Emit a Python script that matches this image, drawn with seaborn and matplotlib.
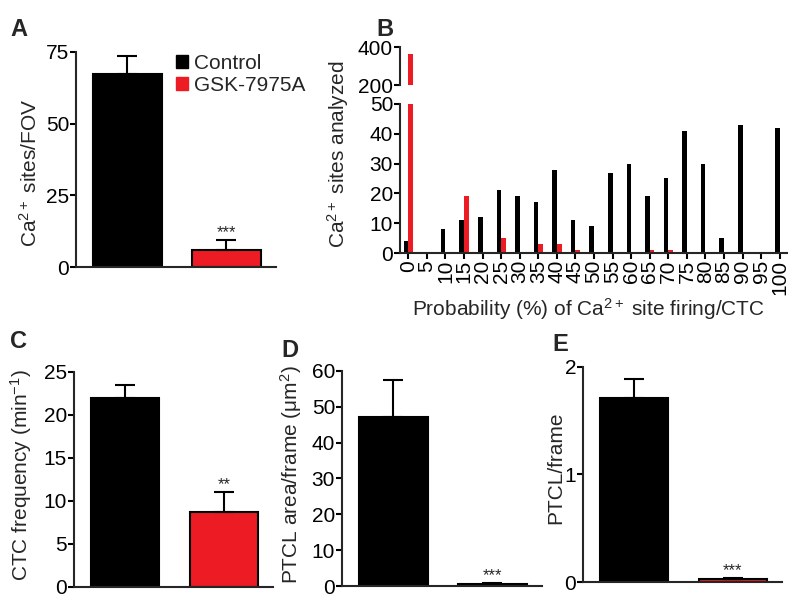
import numpy as np
import pandas as pd
import matplotlib
matplotlib.use("Agg")
import matplotlib.pyplot as plt
from matplotlib.patches import Patch
import seaborn as sns

sns.set_style("ticks")
plt.rcParams['font.family'] = ['Liberation Sans', 'DejaVu Sans']
plt.rcParams['mathtext.fontset'] = 'custom'
plt.rcParams['mathtext.rm'] = 'Liberation Sans'
plt.rcParams['mathtext.it'] = 'Liberation Sans:italic'
plt.rcParams['mathtext.bf'] = 'Liberation Sans:bold'

BLACK = "#000000"
RED = "#ED1C24"
groups = ["Control", "GSK-7975A"]

# Panel A: Ca2+ sites per FOV
a_mean = [67.2, 6.1]
a_sem = [6.5, 3.3]
# Panel C: CTC frequency
c_mean = [22.0, 8.7]
c_sem = [1.5, 2.3]
# Panel D: PTCL area per frame
d_mean = [47.2, 0.6]
d_sem = [10.3, 0.2]
# Panel E: PTCL per frame
e_mean = [1.71, 0.03]
e_sem = [0.18, 0.01]

# Panel B: histogram of firing probability
b_bins = [str(v) for v in range(0, 101, 5)]
b_control = [4, 0, 8, 11, 12, 21, 19, 17, 28, 11, 9, 27, 30, 19, 25, 41, 30, 5, 43, 0, 42]
b_gsk = [365, 0, 0, 19, 0, 5, 0, 3, 3, 1, 0, 0, 0, 1, 1, 0, 0, 0, 0, 0, 0]

fig = plt.figure(figsize=(8, 6.06), dpi=100)

FS = 15
LW = 1.5


def style_axis(ax):
    for s in ["top", "right"]:
        ax.spines[s].set_visible(False)
    for s in ["left", "bottom"]:
        ax.spines[s].set_linewidth(LW)
    ax.tick_params(axis="both", direction="out", length=4, width=LW,
                   labelsize=FS, pad=1, colors="black")


def bar_panel(rect, mean, sem, yticks, ylabel, stars, label_x, label_y):
    ax = fig.add_axes(rect)
    df = pd.DataFrame({"group": groups, "value": mean})
    sns.barplot(data=df, x="group", y="value", hue="group",
                palette=[BLACK, RED], saturation=1, edgecolor="black",
                linewidth=LW, width=0.69, errorbar=None, legend=False, ax=ax)
    ax.errorbar(x=[0, 1], y=mean, yerr=[[0, 0], sem], fmt="none",
                ecolor="black", elinewidth=LW, capsize=7, capthick=LW, zorder=1)
    style_axis(ax)
    ax.set_xlim(-0.52, 1.5)
    ax.set_ylim(0, yticks[-1])
    ax.set_yticks(yticks)
    ax.set_xticks([])
    ax.set_xlabel("")
    ax.set_ylabel(ylabel, fontsize=FS)
    ax.yaxis.set_label_coords(label_x, label_y)
    top = mean[1] + sem[1]
    ax.text(1, top, stars, ha="center", va="bottom", fontsize=12)
    return ax


# Panel A
axA = bar_panel([0.095, 0.5594, 0.25, 0.3548], a_mean, a_sem, [0, 25, 50, 75],
                "Ca$^{2+}$ sites/FOV", "***", -0.175, 0.44)
axA.legend(handles=[Patch(facecolor=BLACK, edgecolor=BLACK),
                    Patch(facecolor=RED, edgecolor=RED)],
           labels=groups, loc="upper left", bbox_to_anchor=(0.46, 1.03),
           frameon=False, fontsize=FS, handlelength=0.55, handleheight=0.55,
           handletextpad=0.3, labelspacing=0.15, borderaxespad=0)

# Panel C
bar_panel([0.0925, 0.0314, 0.249, 0.3548], c_mean, c_sem, [0, 5, 10, 15, 20, 25],
          "CTC frequency (min$^{-1}$)", "**", -0.20, 0.52)
# Panel D
bar_panel([0.4275, 0.033, 0.25, 0.3548], d_mean, d_sem, [0, 10, 20, 30, 40, 50, 60],
          "PTCL area/frame (μm$^{2}$)", "***", -0.19, 0.52)
# Panel E
bar_panel([0.72875, 0.0396, 0.249, 0.3548], e_mean, e_sem, [0, 1, 2],
          "PTCL/frame", "***", -0.09, 0.53)

# Panel B: broken y axis
dfB = pd.DataFrame({
    "bin": b_bins * 2,
    "count": b_control + b_gsk,
    "group": ["Control"] * len(b_bins) + ["GSK-7975A"] * len(b_bins),
})
axBt = fig.add_axes([0.5, 0.8597, 0.484, 0.0627])
axBb = fig.add_axes([0.5, 0.5825, 0.484, 0.2459])
for ax in (axBt, axBb):
    sns.barplot(data=dfB, x="bin", y="count", hue="group",
                palette={"Control": BLACK, "GSK-7975A": RED}, saturation=1,
                width=0.5, linewidth=0, errorbar=None, legend=False, ax=ax)
    style_axis(ax)
    ax.set_xlim(-0.45, 20.4)
    ax.set_xlabel("")
    ax.set_ylabel("")
axBt.set_ylim(200, 400)
axBt.set_yticks([200, 400])
axBt.spines["bottom"].set_visible(False)
axBt.tick_params(axis="x", bottom=False, labelbottom=False)
axBb.set_ylim(0, 50)
axBb.set_yticks([0, 10, 20, 30, 40, 50])
axBb.tick_params(axis="x", labelrotation=90)
fig.text(0.422, 0.745, "Ca$^{2+}$ sites analyzed", rotation=90, ha="center",
         va="center", fontsize=FS)
fig.text(0.735, 0.49, "Probability (%) of Ca$^{2+}$ site firing/CTC",
         ha="center", va="center", fontsize=FS)

# Panel letters
for x, y, s in [(0.013, 0.97, "A"), (0.47, 0.97, "B"), (0.013, 0.455, "C"),
                (0.352, 0.44, "D"), (0.69, 0.45, "E")]:
    fig.text(x, y, s, fontsize=17, fontweight="bold", ha="left", va="top")

fig.savefig("out.png", dpi=100)
